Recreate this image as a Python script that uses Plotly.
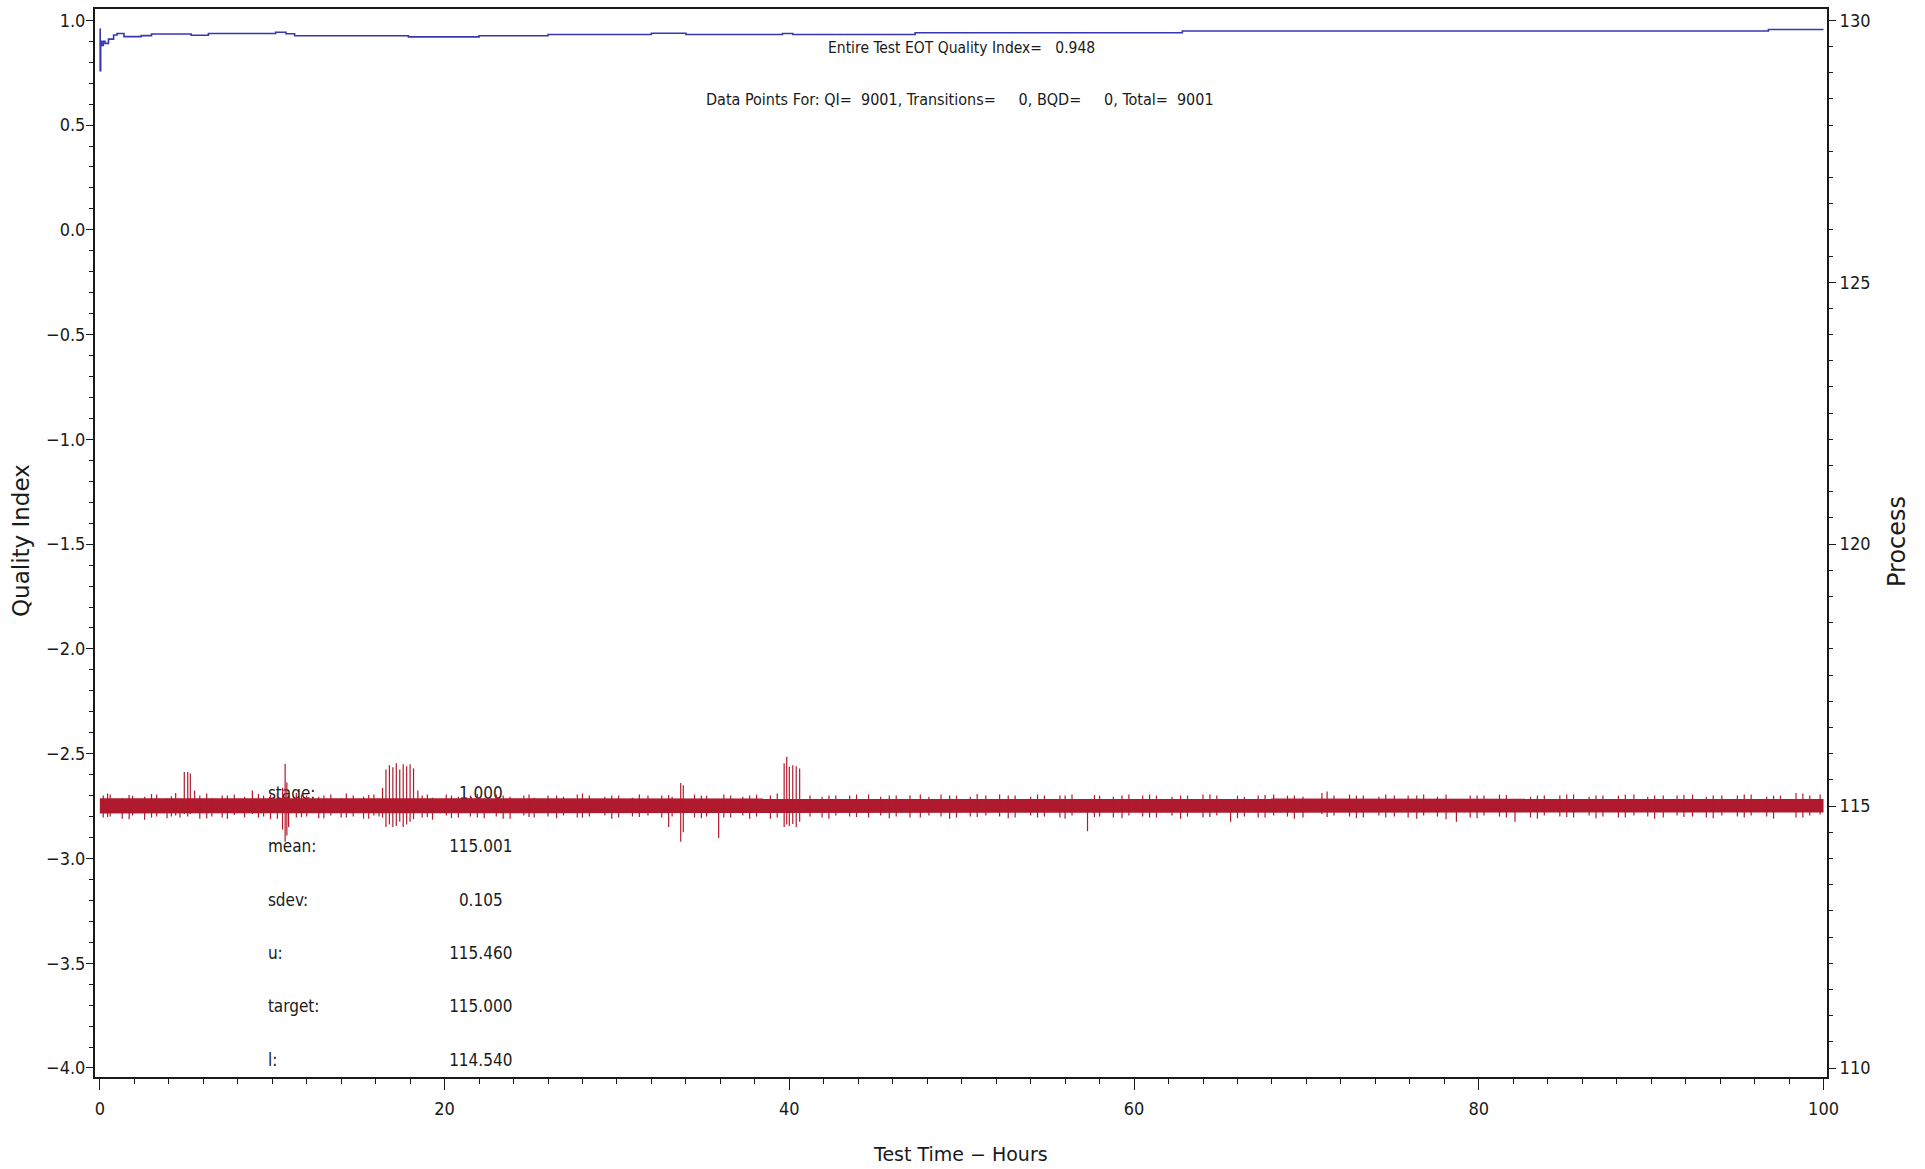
import plotly.graph_objects as go

# ---------------- data ----------------
# cumulative Quality Index (left axis) vs test time in hours
qi_hours = [0.0, 0.02, 0.05, 0.1, 0.2, 0.3, 0.5, 0.8, 1.0, 1.4, 2.4, 3.0, 5.3, 6.3, 10.2, 10.8,
            11.3, 17.9, 22.0, 26.0, 32.0, 34.0, 39.6, 40.2, 47.3, 62.8, 96.8, 100.0]
qi_values = [0.958, 0.76, 0.90, 0.88, 0.900, 0.890, 0.910, 0.930, 0.937, 0.922, 0.927, 0.935, 0.929, 0.937,
             0.943, 0.936, 0.926, 0.921, 0.926, 0.932, 0.938, 0.932, 0.937, 0.932, 0.941, 0.949, 0.956, 0.956]

# process band (right axis): dense core of the 9001 process readings
band_hours = [0.0, 34.0, 100.0]
band_low = [114.86, 114.87, 114.88]
band_high = [115.15, 115.15, 115.14]

# individual excursions of the process trace (hour, low, high)
spike_hours = [
    0.2, 0.6, 1.3, 1.9, 2.6, 3.3, 3.9, 4.4, 4.9, 5.1, 5.25, 5.8, 6.5, 7.1, 7.8, 8.4, 8.85, 9.5, 9.9,
    10.6, 10.75, 10.85, 10.95, 11.4, 12.0, 12.7, 13.4, 14.0, 14.7, 15.3, 15.9,
    16.6, 16.8, 17.0, 17.2, 17.4, 17.6, 17.8, 18.0, 18.2,
    18.7, 19.3, 20.1, 20.8, 21.5, 22.3, 23.0, 23.8, 24.6, 25.2, 26.0, 26.9, 27.7, 28.4, 29.3, 30.1,
    30.9, 31.8, 32.6, 33.2, 33.7, 33.85, 34.5, 35.2, 35.9, 36.6, 37.3, 38.1, 38.9,
    39.7, 39.85, 40.0, 40.2, 40.4, 40.6,
    41.2, 41.9, 42.7, 43.5, 44.6, 45.3, 46.2, 47.0, 48.1, 48.8, 49.7, 50.5, 51.4, 52.2, 53.1, 54.0,
    54.8, 55.7, 56.4, 57.3, 58.0, 58.8, 59.7, 60.5, 61.3, 62.2, 63.1, 64.0, 64.8, 65.6, 66.4, 67.2,
    68.1, 68.9, 69.8, 70.9, 71.6, 72.5, 73.3, 74.2, 75.1, 75.9, 76.8, 77.6, 78.7, 79.5, 80.3, 81.2,
    82.1, 83.0, 83.8, 84.7, 85.5, 86.4, 87.2, 88.1, 89.0, 89.8, 90.7, 91.5, 92.4, 93.2, 94.1, 95.0,
    95.8, 96.7, 97.5, 98.4, 99.2, 99.8,
    0.45, 1.05, 1.7, 2.3, 3.0, 3.6, 4.15, 4.65, 5.5, 6.2, 6.85, 7.4, 8.1, 9.2, 9.7, 10.3, 11.1, 11.7,
    12.4, 13.0, 13.7, 14.3, 15.0, 15.6, 16.2, 16.4, 18.45, 19.0, 19.6, 20.4, 21.2, 21.9, 22.7, 23.4,
    24.2, 24.9, 25.6, 26.5, 27.3, 28.0, 28.8, 29.7, 30.5, 31.3, 32.2, 33.0, 34.2, 34.9, 35.6, 36.2,
    36.9, 37.7, 38.5, 39.3, 41.6, 42.3, 43.1, 43.9, 45.0, 45.8, 46.6, 47.6, 48.4, 49.3, 50.1, 50.9,
    51.8, 52.7, 53.6, 54.4, 55.3, 56.0, 56.9, 57.7, 58.4, 59.3, 60.1, 60.9, 61.8, 62.7, 63.6, 64.4,
    65.2, 66.0, 66.8, 67.6, 68.5, 69.3, 70.2, 71.2, 72.1, 72.9, 73.8, 74.6, 75.5, 76.4, 77.2, 78.1,
    79.1, 79.9, 80.7, 81.6, 82.5, 83.4, 84.2, 85.1, 85.9, 86.8, 87.6, 88.5, 89.4, 90.2, 91.1, 91.9,
    92.8, 93.6, 94.5, 95.4, 96.2, 97.1, 97.9, 98.8, 99.5]
spike_low = [
    114.78, 114.80, 114.76, 114.82, 114.74, 114.80, 114.77, 114.82, 114.85, 114.80, 114.85, 114.76,
    114.80, 114.78, 114.83, 114.78, 114.85, 114.80, 114.75,
    114.55, 114.32, 114.44, 114.60, 114.78, 114.80, 114.77, 114.82, 114.78, 114.80, 114.76, 114.82,
    114.60, 114.65, 114.60, 114.62, 114.70, 114.60, 114.65, 114.70, 114.75,
    114.78, 114.74, 114.82, 114.78, 114.80, 114.77, 114.80, 114.76, 114.82, 114.78, 114.80, 114.82,
    114.78, 114.80, 114.82, 114.78, 114.80, 114.82, 114.78, 114.80, 114.32, 114.50, 114.78, 114.80,
    114.39, 114.78, 114.82, 114.80, 114.76,
    114.60, 114.65, 114.62, 114.66, 114.60, 114.70,
    114.80, 114.78, 114.82, 114.80, 114.78, 114.82, 114.80, 114.78, 114.82, 114.80, 114.78, 114.80,
    114.82, 114.80, 114.78, 114.82, 114.80, 114.78, 114.82, 114.52, 114.80, 114.78, 114.82, 114.80,
    114.78, 114.82, 114.80, 114.78, 114.82, 114.70, 114.80, 114.78, 114.82, 114.80, 114.78, 114.85,
    114.82, 114.80, 114.78, 114.82, 114.80, 114.78, 114.82, 114.80, 114.70, 114.78, 114.82, 114.80,
    114.70, 114.78, 114.82, 114.80, 114.78, 114.82, 114.80, 114.78, 114.82, 114.80, 114.78, 114.82,
    114.80, 114.78, 114.82, 114.80, 114.82, 114.80, 114.90, 114.78, 114.82,
    114.84, 114.79, 114.95, 114.75, 114.95, 114.78, 114.95, 114.80, 114.78, 114.95, 114.77, 114.95,
    114.76, 114.95, 114.78, 114.95, 114.76, 114.95, 114.79, 114.95, 114.77, 114.95, 114.78, 114.95,
    114.76, 114.80, 114.78, 114.95, 114.79, 114.95, 114.77, 114.95, 114.78, 114.95, 114.76, 114.95,
    114.79, 114.95, 114.77, 114.95, 114.78, 114.95, 114.76, 114.95, 114.79, 114.95, 114.60, 114.95,
    114.77, 114.95, 114.78, 114.95, 114.76, 114.95, 114.78, 114.95, 114.76, 114.95, 114.79, 114.95,
    114.77, 114.95, 114.78, 114.95, 114.76, 114.95, 114.79, 114.95, 114.77, 114.95, 114.78, 114.95,
    114.76, 114.95, 114.79, 114.95, 114.77, 114.95, 114.78, 114.95, 114.76, 114.95, 114.79, 114.95,
    114.77, 114.95, 114.78, 114.95, 114.76, 114.95, 114.79, 114.95, 114.77, 114.95, 114.78, 114.95,
    114.76, 114.95, 114.75, 114.95, 114.77, 114.95, 114.78, 114.95, 114.76, 114.95, 114.79, 114.95,
    114.77, 114.95, 114.78, 114.95, 114.76, 114.95, 114.79, 114.95, 114.77, 114.95, 114.78, 114.95,
    114.76, 114.95, 114.78]
spike_high = [
    115.20, 115.22, 115.15, 115.20, 115.18, 115.22, 115.15, 115.25, 115.65, 115.65, 115.62, 115.20,
    115.15, 115.20, 115.22, 115.18, 115.30, 115.20, 115.22,
    115.35, 115.81, 115.45, 115.10, 115.25, 115.20, 115.18, 115.22, 115.15, 115.20, 115.18, 115.22,
    115.70, 115.78, 115.74, 115.82, 115.70, 115.80, 115.76, 115.80, 115.72,
    115.20, 115.16, 115.22, 115.18, 115.20, 115.15, 115.22, 115.18, 115.20, 115.16, 115.20, 115.18,
    115.22, 115.20, 115.18, 115.20, 115.16, 115.20, 115.20, 115.18, 115.44, 115.40, 115.22, 115.20,
    115.10, 115.20, 115.18, 115.22, 115.20,
    115.82, 115.94, 115.75, 115.78, 115.76, 115.72,
    115.20, 115.18, 115.20, 115.20, 115.22, 115.18, 115.20, 115.20, 115.18, 115.22, 115.20, 115.18,
    115.20, 115.22, 115.20, 115.18, 115.20, 115.20, 115.22, 115.05, 115.20, 115.18, 115.22, 115.20,
    115.20, 115.18, 115.20, 115.22, 115.20, 115.10, 115.18, 115.20, 115.22, 115.20, 115.18, 115.25,
    115.20, 115.22, 115.20, 115.18, 115.20, 115.20, 115.22, 115.18, 115.10, 115.20, 115.20, 115.22,
    115.10, 115.18, 115.20, 115.20, 115.22, 115.18, 115.20, 115.20, 115.22, 115.18, 115.20, 115.20,
    115.22, 115.18, 115.20, 115.20, 115.22, 115.18, 115.20, 115.25, 115.20, 115.22,
    115.24, 115.05, 115.21, 115.00, 115.23, 115.00, 115.19, 115.00, 115.30, 115.24, 115.00, 115.20,
    115.00, 115.23, 115.00, 115.25, 115.00, 115.22, 115.00, 115.20, 115.00, 115.24, 115.00, 115.21,
    115.00, 115.35, 115.30, 115.22, 115.00, 115.20, 115.00, 115.23, 115.00, 115.20, 115.00, 115.22,
    115.00, 115.20, 115.00, 115.24, 115.00, 115.20, 115.00, 115.22, 115.00, 115.21, 115.00, 115.20,
    115.00, 115.22, 115.00, 115.20, 115.00, 115.24, 115.00, 115.20, 115.00, 115.22, 115.00, 115.20,
    115.00, 115.22, 115.00, 115.20, 115.00, 115.23, 115.00, 115.20, 115.00, 115.22, 115.00, 115.20,
    115.00, 115.21, 115.00, 115.20, 115.00, 115.22, 115.00, 115.20, 115.00, 115.22, 115.00, 115.20,
    115.00, 115.21, 115.00, 115.20, 115.00, 115.28, 115.00, 115.20, 115.00, 115.22, 115.00, 115.20,
    115.00, 115.22, 115.00, 115.20, 115.00, 115.21, 115.00, 115.20, 115.00, 115.22, 115.00, 115.20,
    115.00, 115.22, 115.00, 115.20, 115.00, 115.21, 115.00, 115.20, 115.00, 115.22, 115.00, 115.20,
    115.00, 115.24, 115.00]

# summary statistics block
stat_labels = ["stage:", "mean:", "sdev:", "u:", "target:", "l:"]
stat_values = ["1.000", "115.001", "0.105", "115.460", "115.000", "114.540"]

eot_qi = "0.948"
n_qi, n_trans, n_bqd, n_total = 9001, 0, 0, 9001

# axis ticks
x_ticks = [0, 20, 40, 60, 80, 100]
qi_ticks = [1.0, 0.5, 0.0, -0.5, -1.0, -1.5, -2.0, -2.5, -3.0, -3.5, -4.0]
proc_ticks = [130, 125, 120, 115, 110]

# ---------------- styling ----------------
FONT = "Liberation Sans Narrow, DejaVu Sans Condensed, Arial Narrow, sans-serif"
TFONT = "DejaVu Sans, sans-serif"
RED = "#b01a2e"
BLUE = "#3737b4"
INK = "#1a1a1a"

L, R, T, B = 95, 1827, 7, 1077          # plot-area pixel box
W, H = R - L, B - T


def px(xp):
    return (xp - L) / W


def py(yp):
    return (B - yp) / H


fig = go.Figure()

# stats text (drawn underneath the process trace, as in the reference)
stat_rows_qi = [-2.697, -2.950, -3.207, -3.460, -3.712, -3.969]
fig.add_trace(go.Scatter(
    x=[9.75] * len(stat_labels), y=stat_rows_qi, mode="text", text=stat_labels,
    textposition="middle right", textfont=dict(family=FONT, size=17, color=INK),
    hoverinfo="skip", showlegend=False, cliponaxis=False, yaxis="y"))
fig.add_trace(go.Scatter(
    x=[22.1] * len(stat_values), y=stat_rows_qi, mode="text", text=stat_values,
    textposition="middle center", textfont=dict(family=FONT, size=17, color=INK),
    hoverinfo="skip", showlegend=False, cliponaxis=False, yaxis="y"))

# quality index line
fig.add_trace(go.Scatter(
    x=qi_hours, y=qi_values, mode="lines", line=dict(color=BLUE, width=1.6, shape="hv"),
    showlegend=False, yaxis="y"))

# process band
fig.add_trace(go.Scatter(
    x=band_hours, y=band_low, mode="lines", line=dict(color=RED, width=0),
    showlegend=False, yaxis="y2", hoverinfo="skip"))
fig.add_trace(go.Scatter(
    x=band_hours, y=band_high, mode="lines", line=dict(color=RED, width=0),
    fill="tonexty", fillcolor=RED, showlegend=False, yaxis="y2"))

# process excursions
sx, sy = [], []
for h, lo, hi in zip(spike_hours, spike_low, spike_high):
    sx += [h, h, None]
    sy += [lo, hi, None]
fig.add_trace(go.Scatter(
    x=sx, y=sy, mode="lines", line=dict(color=RED, width=1.2),
    showlegend=False, yaxis="y2", connectgaps=False))

nb = "\u00a0"
fig.add_annotation(
    x=px(961), y=py(46), xref="paper", yref="paper", xanchor="center", yanchor="middle",
    showarrow=False, text=f"Entire Test EOT Quality Index={nb*3}{eot_qi}",
    font=dict(family=FONT, size=15.5, color=INK))
fig.add_annotation(
    x=px(960), y=py(98), xref="paper", yref="paper", xanchor="center", yanchor="middle",
    showarrow=False,
    text=(f"Data Points For: QI={nb*2}{n_qi}, Transitions={nb*5}{n_trans}, "
          f"BQD={nb*5}{n_bqd}, Total={nb*2}{n_total}"),
    font=dict(family=FONT, size=16, color=INK))

# axis titles
fig.add_annotation(
    x=px(21), y=py(540), xref="paper", yref="paper", xanchor="center", yanchor="middle",
    showarrow=False, textangle=-90, text="Quality Index",
    font=dict(family=TFONT, size=23, color=INK))
fig.add_annotation(
    x=px(1897), y=py(540), xref="paper", yref="paper", xanchor="center", yanchor="middle",
    showarrow=False, textangle=-90, text="Process",
    font=dict(family=TFONT, size=24, color=INK))
fig.add_annotation(
    x=px(960), y=py(1154), xref="paper", yref="paper", xanchor="center", yanchor="middle",
    showarrow=False, text="Test Time \u2212 Hours",
    font=dict(family=TFONT, size=19, color=INK))

fig.update_layout(
    width=1925, height=1169,
    margin=dict(l=L, r=1925 - R, t=T, b=1169 - B),
    paper_bgcolor="white", plot_bgcolor="white",
    font=dict(family=FONT, size=18, color=INK),
    showlegend=False,
    xaxis=dict(
        range=[-0.28, 100.2], tickvals=x_ticks, ticks="outside", ticklen=11, tickwidth=1.4,
        tickcolor=INK, showline=True, linewidth=2, linecolor=INK, mirror=True,
        showgrid=False, zeroline=False, ticklabelstandoff=3,
        minor=dict(dtick=2, tick0=0, ticks="outside", ticklen=5, tickwidth=1.2, tickcolor=INK),
    ),
    yaxis=dict(
        range=[-4.043, 1.054], tickvals=qi_ticks, tickformat=".1f", ticks="outside",
        ticklen=7, tickwidth=1.4, tickcolor=INK, showline=True, linewidth=2, linecolor=INK,
        showgrid=False, zeroline=False, ticklabelstandoff=-3,
        minor=dict(dtick=0.1, tick0=0, ticks="outside", ticklen=4, tickwidth=1.2, tickcolor=INK),
    ),
    yaxis2=dict(
        range=[109.829, 130.215], tickvals=proc_ticks, overlaying="y", side="right",
        ticks="outside", ticklen=7, tickwidth=1.4, tickcolor=INK, showline=True, linewidth=2,
        linecolor=INK, showgrid=False, zeroline=False, ticklabelstandoff=0,
        minor=dict(dtick=0.5, tick0=110, ticks="outside", ticklen=4, tickwidth=1.2, tickcolor=INK),
    ),
)

fig.write_html("out.html", config={"displayModeBar": False},
               post_script="document.body.style.margin='0';")
